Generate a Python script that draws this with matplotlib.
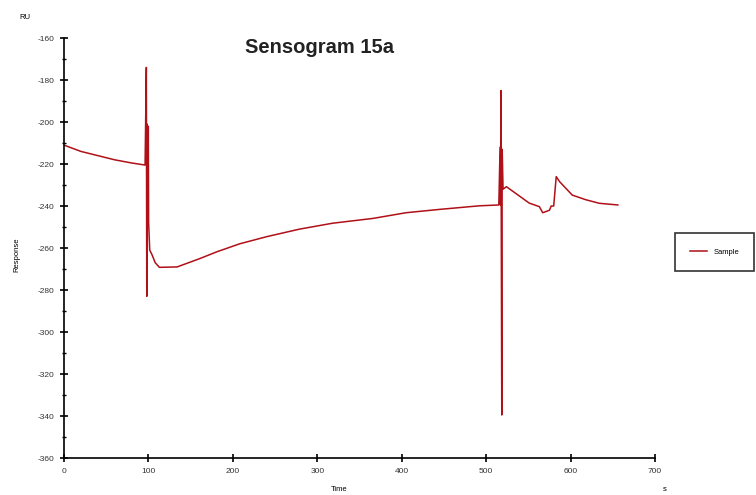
import matplotlib.pyplot as plt
from matplotlib.ticker import MultipleLocator

plt.rcParams['font.family'] = ['Liberation Sans', 'DejaVu Sans']
plt.rcParams['axes.unicode_minus'] = False

# sensogram values (time in s, response in RU)
time = [0, 20, 40, 60, 80, 96, 97.5, 98, 98.5, 99.5, 99.8, 100.2, 101.5,
        104, 108, 113, 134, 161, 181, 208, 240, 279, 318, 366, 405, 445,
        492, 515, 516.5, 517, 517.5, 518.5, 519, 520, 524, 551, 563, 567,
        575, 577, 580, 583, 587, 602, 618, 634, 656]
response = [-211, -214, -216, -218, -219.5, -220.5, -174, -283, -201, -248,
            -202, -248, -261, -263, -267, -269.2, -269, -265, -261.8, -258,
            -254.6, -251, -248.2, -245.9, -243.2, -241.6, -239.9, -239.5,
            -212, -239.5, -185, -339.5, -213, -232, -230.8, -238.6, -240.3,
            -243.2, -242, -240, -240, -226, -228.4, -234.8, -237, -238.7,
            -239.5]

fig = plt.figure(figsize=(7.56, 4.95), dpi=100)
ax = fig.add_axes([0.0847, 0.0747, 0.7817, 0.8485])

line, = ax.plot(time, response, color='#b01018', lw=1.1, label='Sample')

ax.set_xlim(0, 700)
ax.set_ylim(-360, -160)
ax.xaxis.set_major_locator(MultipleLocator(100))
ax.yaxis.set_major_locator(MultipleLocator(20))
ax.yaxis.set_minor_locator(MultipleLocator(10))
ax.spines['top'].set_visible(False)
ax.spines['right'].set_visible(False)
ax.spines['left'].set_linewidth(1.2)
ax.spines['bottom'].set_linewidth(1.2)
ax.tick_params(axis='both', which='major', direction='inout', length=6,
               width=1.2, labelsize=6, pad=4, labelcolor='#333333')
ax.tick_params(axis='y', which='minor', direction='inout', length=3, width=1)

fig.text(0.324, 0.905, 'Sensogram 15a', fontsize=14.5, fontweight='bold',
         ha='left', va='center', color='#222222')
fig.text(0.033, 0.965, 'RU', fontsize=5.5, ha='center', va='center')
fig.text(0.022, 0.485, 'Response', fontsize=5.5, rotation=90,
         ha='center', va='center')
fig.text(0.448, 0.012, 'Time', fontsize=5.5, ha='center', va='center')
fig.text(0.879, 0.012, 's', fontsize=5.5, ha='center', va='center')

leg = fig.legend(handles=[line], loc='center left',
                 bbox_to_anchor=(0.893, 0.49), fontsize=5.5, frameon=True,
                 fancybox=False, edgecolor='black', borderpad=2.0,
                 handlelength=2.2, borderaxespad=0)
leg.get_frame().set_linewidth(1.2)

fig.savefig('out.png', dpi=100)
